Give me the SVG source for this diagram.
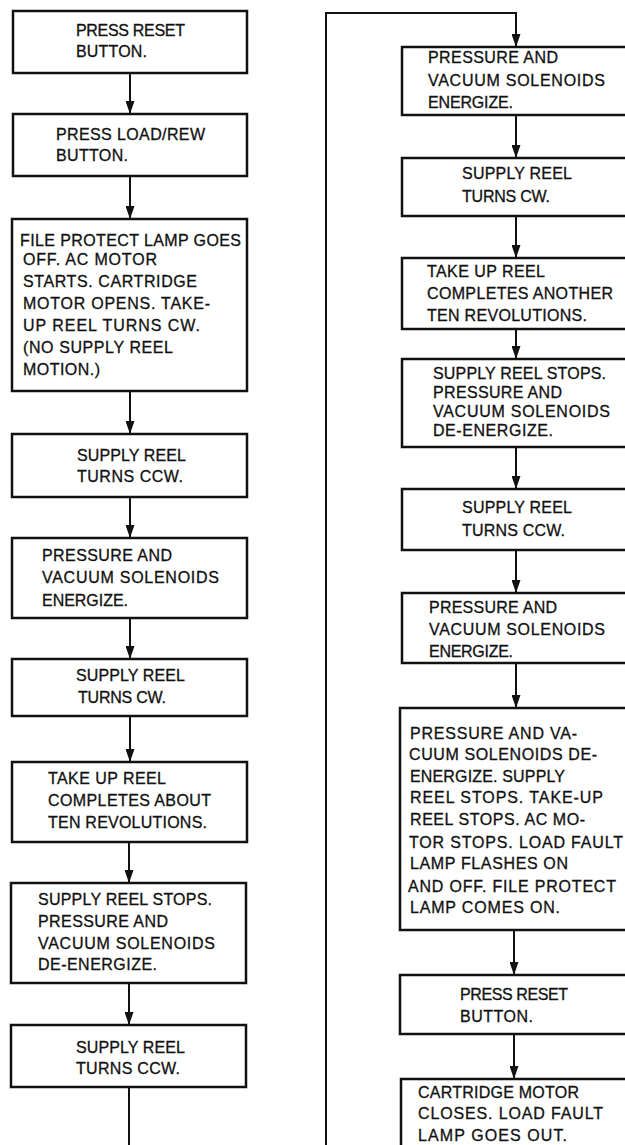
<svg xmlns="http://www.w3.org/2000/svg" width="625" height="1145" viewBox="0 0 625 1145">
<style>
.box{fill:#fff;stroke:#111;stroke-width:2.5}
.t{font-family:"Liberation Sans",Arial,sans-serif;font-size:16px;fill:#111;stroke:#111;stroke-width:0.3}
.c{fill:none;stroke:#111;stroke-width:2}
</style>
<defs>
<marker id="ah" viewBox="0 0 13 9" refX="13" refY="4.5" markerWidth="13" markerHeight="9" markerUnits="userSpaceOnUse" orient="auto">
<path d="M0,0 L13,4.5 L0,9 z" fill="#111"/>
</marker>
</defs>
<rect width="625" height="1145" fill="#fff"/>
<g id="connectors">
<path class="c" d="M130,73 V114" marker-end="url(#ah)"/>
<path class="c" d="M130,176 V219" marker-end="url(#ah)"/>
<path class="c" d="M130,391 V434" marker-end="url(#ah)"/>
<path class="c" d="M130,497 V538" marker-end="url(#ah)"/>
<path class="c" d="M130,618 V659" marker-end="url(#ah)"/>
<path class="c" d="M130,716 V762" marker-end="url(#ah)"/>
<path class="c" d="M129,842 V883" marker-end="url(#ah)"/>
<path class="c" d="M129,983 V1025" marker-end="url(#ah)"/>
<path class="c" d="M129,1087 V1145"/>
<path class="c" d="M326,1145 V13 H516 V47" marker-end="url(#ah)"/>
<path class="c" d="M516,115 V158" marker-end="url(#ah)"/>
<path class="c" d="M516,216 V258" marker-end="url(#ah)"/>
<path class="c" d="M516,329 V359" marker-end="url(#ah)"/>
<path class="c" d="M516,447 V489" marker-end="url(#ah)"/>
<path class="c" d="M516,550 V593" marker-end="url(#ah)"/>
<path class="c" d="M516,663 V708" marker-end="url(#ah)"/>
<path class="c" d="M514,930 V975" marker-end="url(#ah)"/>
<path class="c" d="M514,1034 V1079" marker-end="url(#ah)"/>
</g>
<g id="n1"><rect class="box" x="13" y="11" width="234" height="62"/>
<text class="t" x="76" y="36" textLength="109">PRESS RESET</text>
<text class="t" x="76" y="57" textLength="71">BUTTON.</text></g>
<g id="n2"><rect class="box" x="13" y="114" width="234" height="62"/>
<text class="t" x="56" y="140" textLength="149">PRESS LOAD/REW</text>
<text class="t" x="56" y="161" textLength="72">BUTTON.</text></g>
<g id="n3"><rect class="box" x="12" y="219" width="235" height="172"/>
<text class="t" x="20" y="246" textLength="221">FILE PROTECT LAMP GOES</text>
<text class="t" x="23" y="265" textLength="134">OFF. AC MOTOR</text>
<text class="t" x="23" y="287" textLength="174">STARTS. CARTRIDGE</text>
<text class="t" x="23" y="309" textLength="187">MOTOR OPENS. TAKE-</text>
<text class="t" x="23" y="331" textLength="177">UP REEL TURNS CW.</text>
<text class="t" x="23" y="353" textLength="150">(NO SUPPLY REEL</text>
<text class="t" x="23" y="375" textLength="77">MOTION.)</text></g>
<g id="n4"><rect class="box" x="12" y="434" width="235" height="63"/>
<text class="t" x="77" y="461" textLength="109">SUPPLY REEL</text>
<text class="t" x="77" y="482" textLength="106">TURNS CCW.</text></g>
<g id="n5"><rect class="box" x="12" y="538" width="235" height="80"/>
<text class="t" x="42" y="561" textLength="130">PRESSURE AND</text>
<text class="t" x="42" y="583" textLength="177">VACUUM SOLENOIDS</text>
<text class="t" x="42" y="606" textLength="86">ENERGIZE.</text></g>
<g id="n6"><rect class="box" x="12" y="659" width="235" height="57"/>
<text class="t" x="76" y="681" textLength="109">SUPPLY REEL</text>
<text class="t" x="78" y="703" textLength="88">TURNS CW.</text></g>
<g id="n7"><rect class="box" x="12" y="762" width="235" height="80"/>
<text class="t" x="48" y="784" textLength="118">TAKE UP REEL</text>
<text class="t" x="48" y="806" textLength="163">COMPLETES ABOUT</text>
<text class="t" x="48" y="828" textLength="159">TEN REVOLUTIONS.</text></g>
<g id="n8"><rect class="box" x="11" y="883" width="235" height="100"/>
<text class="t" x="38" y="905" textLength="174">SUPPLY REEL STOPS.</text>
<text class="t" x="38" y="927" textLength="130">PRESSURE AND</text>
<text class="t" x="38" y="949" textLength="177">VACUUM SOLENOIDS</text>
<text class="t" x="38" y="970" textLength="119">DE-ENERGIZE.</text></g>
<g id="n9"><rect class="box" x="11" y="1025" width="235" height="62"/>
<text class="t" x="76" y="1053" textLength="109">SUPPLY REEL</text>
<text class="t" x="76" y="1074" textLength="104">TURNS CCW.</text></g>
<g id="r1"><rect class="box" x="402" y="47" width="240" height="68"/>
<text class="t" x="428" y="63" textLength="130">PRESSURE AND</text>
<text class="t" x="428" y="86" textLength="177">VACUUM SOLENOIDS</text>
<text class="t" x="428" y="108" textLength="85">ENERGIZE.</text></g>
<g id="r2"><rect class="box" x="402" y="158" width="240" height="58"/>
<text class="t" x="462" y="179" textLength="110">SUPPLY REEL</text>
<text class="t" x="462" y="202" textLength="88">TURNS CW.</text></g>
<g id="r3"><rect class="box" x="402" y="258" width="240" height="71"/>
<text class="t" x="427" y="277" textLength="118">TAKE UP REEL</text>
<text class="t" x="427" y="299" textLength="186">COMPLETES ANOTHER</text>
<text class="t" x="427" y="321" textLength="160">TEN REVOLUTIONS.</text></g>
<g id="r4"><rect class="box" x="402" y="359" width="240" height="88"/>
<text class="t" x="433" y="379" textLength="173">SUPPLY REEL STOPS.</text>
<text class="t" x="433" y="398" textLength="129">PRESSURE AND</text>
<text class="t" x="433" y="417" textLength="177">VACUUM SOLENOIDS</text>
<text class="t" x="433" y="436" textLength="120">DE-ENERGIZE.</text></g>
<g id="r5"><rect class="box" x="402" y="489" width="240" height="61"/>
<text class="t" x="462" y="513" textLength="110">SUPPLY REEL</text>
<text class="t" x="462" y="536" textLength="103">TURNS CCW.</text></g>
<g id="r6"><rect class="box" x="402" y="593" width="240" height="70"/>
<text class="t" x="429" y="613" textLength="128">PRESSURE AND</text>
<text class="t" x="429" y="635" textLength="176">VACUUM SOLENOIDS</text>
<text class="t" x="429" y="657" textLength="84">ENERGIZE.</text></g>
<g id="r7"><rect class="box" x="400" y="708" width="242" height="222"/>
<text class="t" x="410" y="739" textLength="167">PRESSURE AND VA-</text>
<text class="t" x="409" y="760" textLength="188">CUUM SOLENOIDS DE-</text>
<text class="t" x="410" y="782" textLength="155">ENERGIZE. SUPPLY</text>
<text class="t" x="410" y="803" textLength="193">REEL STOPS. TAKE-UP</text>
<text class="t" x="410" y="825" textLength="175">REEL STOPS. AC MO-</text>
<text class="t" x="409" y="848" textLength="214">TOR STOPS. LOAD FAULT</text>
<text class="t" x="410" y="869" textLength="158">LAMP FLASHES ON</text>
<text class="t" x="408" y="892" textLength="208">AND OFF. FILE PROTECT</text>
<text class="t" x="410" y="913" textLength="150">LAMP COMES ON.</text></g>
<g id="r8"><rect class="box" x="400" y="975" width="242" height="59"/>
<text class="t" x="460" y="1000" textLength="108">PRESS RESET</text>
<text class="t" x="460" y="1022" textLength="73">BUTTON.</text></g>
<g id="r9"><rect class="box" x="401" y="1079" width="241" height="80"/>
<text class="t" x="418" y="1098" textLength="161">CARTRIDGE MOTOR</text>
<text class="t" x="418" y="1119" textLength="185">CLOSES. LOAD FAULT</text>
<text class="t" x="418" y="1141" textLength="149">LAMP GOES OUT.</text></g>
</svg>
